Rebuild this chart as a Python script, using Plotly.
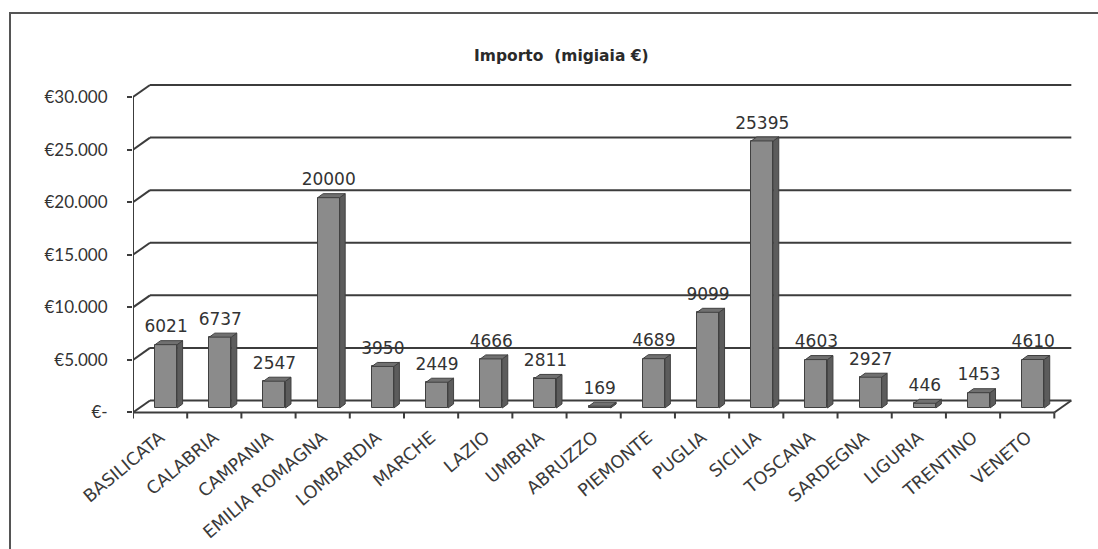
import plotly.graph_objects as go

# Regional amounts (thousands of euro)
regions = ["BASILICATA", "CALABRIA", "CAMPANIA", "EMILIA ROMAGNA", "LOMBARDIA",
           "MARCHE", "LAZIO", "UMBRIA", "ABRUZZO", "PIEMONTE", "PUGLIA",
           "SICILIA", "TOSCANA", "SARDEGNA", "LIGURIA", "TRENTINO", "VENETO"]
values = [6021, 6737, 2547, 20000, 3950, 2449, 4666, 2811, 169, 4689, 9099,
          25395, 4603, 2927, 446, 1453, 4610]
y_ticks = [0, 5000, 10000, 15000, 20000, 25000, 30000]
y_tick_text = ["€-", "€5.000", "€10.000", "€15.000", "€20.000", "€25.000", "€30.000"]

# --- canvas / axis geometry -------------------------------------------------
W, H = 1098, 549
M_L, M_R, M_T, M_B = 133, 22, 76, 126
X_RANGE = [-0.5, 16.9]
Y_RANGE = [-1000, 32000]
plot_w = W - M_L - M_R
plot_h = H - M_T - M_B
px_x = (X_RANGE[1] - X_RANGE[0]) / plot_w     # data units per pixel (x)
px_y = (Y_RANGE[1] - Y_RANGE[0]) / plot_h     # data units per pixel (y)

# pseudo-3D depth of the floor / back wall
DX, DY = 17 * px_x, 12 * px_y
# bar placement inside the depth and bar dimensions
BAR_SHIFT_X, BAR_SHIFT_Y = 6 * px_x, 4.5 * px_y
BAR_W = 22 * px_x
BAR_DX, BAR_DY = 5.5 * px_x, 4 * px_y

n = len(regions)
idx = list(range(n))
x0, x1 = -0.5, n - 0.5
line_col = "#3c3c3c"

fig = go.Figure()

# front faces
fig.add_trace(go.Bar(
    x=[i + BAR_SHIFT_X for i in idx], y=values, base=[BAR_SHIFT_Y] * n,
    width=BAR_W, marker=dict(color="#8b8b8b", line=dict(color="#404040", width=1)),
    hoverinfo="skip", showlegend=False,
))

# side and top faces
side_x, side_y, top_x, top_y = [], [], [], []
for i, v in zip(idx, values):
    xl = i + BAR_SHIFT_X - BAR_W / 2
    xr = i + BAR_SHIFT_X + BAR_W / 2
    yb = BAR_SHIFT_Y
    yt = BAR_SHIFT_Y + v
    side_x += [xr, xr + BAR_DX, xr + BAR_DX, xr, xr, None]
    side_y += [yb, yb + BAR_DY, yt + BAR_DY, yt, yb, None]
    top_x += [xl, xl + BAR_DX, xr + BAR_DX, xr, xl, None]
    top_y += [yt, yt + BAR_DY, yt + BAR_DY, yt, yt, None]

fig.add_trace(go.Scatter(x=side_x, y=side_y, mode="lines", fill="toself",
                         fillcolor="#5c5c5c", line=dict(color="#404040", width=1),
                         hoverinfo="skip", showlegend=False))
fig.add_trace(go.Scatter(x=top_x, y=top_y, mode="lines", fill="toself",
                         fillcolor="#707070", line=dict(color="#404040", width=1),
                         hoverinfo="skip", showlegend=False))

# value labels
fig.add_trace(go.Scatter(
    x=[i + BAR_SHIFT_X for i in idx],
    y=[BAR_SHIFT_Y + v + BAR_DY + 4 * px_y for v in values],
    mode="text", text=[str(v) for v in values], textposition="top center",
    textfont=dict(family="DejaVu Sans", size=17, color="#333333"),
    hoverinfo="skip", showlegend=False,
))

shapes = []
# back-wall gridlines with their slanted left returns
for t in y_ticks:
    shapes.append(dict(type="line", xref="x", yref="y", x0=x0 + DX, x1=x1 + DX,
                       y0=t + DY, y1=t + DY, line=dict(color=line_col, width=2),
                       layer="below"))
    shapes.append(dict(type="line", xref="x", yref="y", x0=x0, x1=x0 + DX,
                       y0=t, y1=t + DY, line=dict(color=line_col, width=2),
                       layer="below"))
# front vertical axis
shapes.append(dict(type="line", xref="x", yref="y", x0=x0, x1=x0, y0=0,
                   y1=y_ticks[-1], line=dict(color=line_col, width=2), layer="below"))
# floor front edge and right slant
shapes.append(dict(type="line", xref="x", yref="y", x0=x0, x1=x1, y0=0, y1=0,
                   line=dict(color=line_col, width=2), layer="below"))
shapes.append(dict(type="line", xref="x", yref="y", x0=x1, x1=x1 + DX, y0=0, y1=DY,
                   line=dict(color=line_col, width=2), layer="below"))
# category separator ticks
for k in range(n + 1):
    shapes.append(dict(type="line", xref="x", yref="y", x0=x0 + k, x1=x0 + k,
                       y0=0, y1=-6 * px_y, line=dict(color=line_col, width=2),
                       layer="below"))
# outer frame
shapes.append(dict(type="rect", xref="paper", yref="paper",
                   x0=(10 - M_L) / plot_w, x1=(1102 - M_L) / plot_w,
                   y0=(H - M_B - 560) / plot_h, y1=(H - M_B - 13) / plot_h,
                   line=dict(color="#555555", width=2), fillcolor="rgba(0,0,0,0)",
                   layer="below"))

fig.update_layout(
    width=W, height=H,
    margin=dict(l=M_L, r=M_R, t=M_T, b=M_B, pad=0, autoexpand=False),
    paper_bgcolor="white", plot_bgcolor="white",
    shapes=shapes,
    bargap=0,
    annotations=[dict(
        text="<b>Importo  (migiaia €)</b>", xref="paper", yref="paper",
        x=(561 - M_L) / plot_w, y=(H - M_B - 45) / plot_h,
        showarrow=False, font=dict(family="DejaVu Sans", size=15.5, color="#2a2a2a"),
    )],
    xaxis=dict(
        range=X_RANGE, tickmode="array", tickvals=idx, ticktext=regions,
        tickangle=-40, showgrid=False, zeroline=False, showline=False, ticks="",
        automargin=False,
        tickfont=dict(family="DejaVu Sans", size=17.5, color="#3a3a3a"),
    ),
    yaxis=dict(
        range=Y_RANGE, tickmode="array", tickvals=y_ticks, ticktext=y_tick_text,
        showgrid=False, zeroline=False, showline=False, automargin=False,
        ticks="outside", ticklen=5, tickwidth=2, tickcolor=line_col,
        ticklabelstandoff=16,
        tickfont=dict(family="Lato", size=17, color="#333333"),
    ),
)

fig.write_html("out.html")
